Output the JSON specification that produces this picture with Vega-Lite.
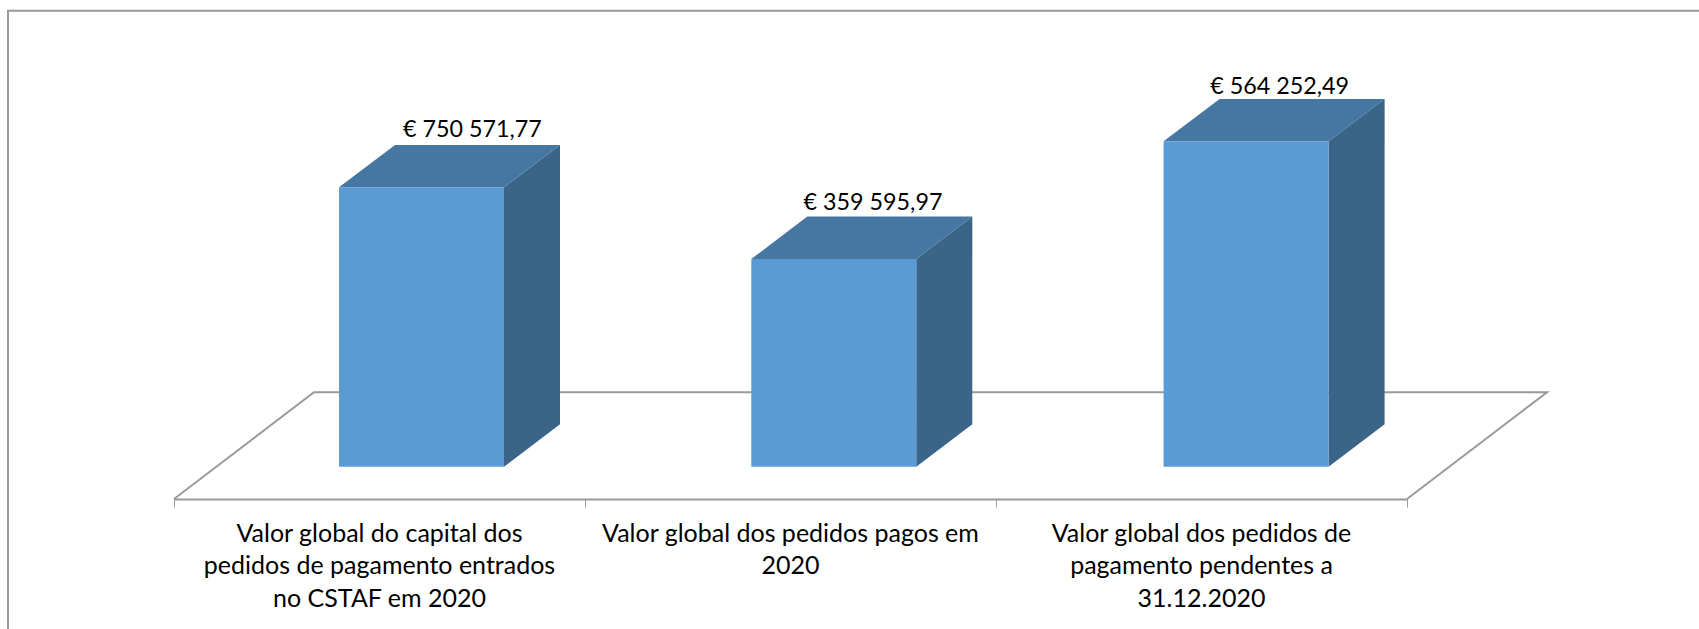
{
"$schema":"https://vega.github.io/schema/vega-lite/v6.json",
"width":1233,"height":499,
"autosize":{"type":"none"},
"padding":{"left":174,"top":0,"right":292,"bottom":130},
"background":"#ffffff",
"view":{"stroke":null},
"config":{"axisX":{"labels":false,"grid":false,"domainColor":"#9a9a9a","domainWidth":2,"tickColor":"#9a9a9a","tickWidth":1,"tickSize":8}},
"datasets":{
"barras":[
{"categoria":"Valor global do capital dos\npedidos de pagamento entrados\nno CSTAF em 2020","centro":0.5,"esq":0.4015,"dir":0.8029,"base":0,"altura":279.4,"valor":"€ 750 571,77","rotX":0.7261,"rotY":329.4},
{"categoria":"Valor global dos pedidos pagos em\n2020","centro":1.5,"esq":1.4046,"dir":1.806,"base":0,"altura":207.7,"valor":"€ 359 595,97","rotX":1.7007,"rotY":256.7},
{"categoria":"Valor global dos pedidos de\npagamento pendentes a\n31.12.2020","centro":2.5,"esq":2.4078,"dir":2.8092,"base":0,"altura":325.4,"valor":"€ 564 252,49","rotX":2.69,"rotY":372.7}
],
"lateral":[
{"barra":"A","x":0.8029,"y":279.4,"y2":0},{"barra":"A","x":0.9392,"y":321.8,"y2":42.4},
{"barra":"B","x":1.806,"y":207.7,"y2":0},{"barra":"B","x":1.9423,"y":250.1,"y2":42.4},
{"barra":"C","x":2.8092,"y":325.4,"y2":0},{"barra":"C","x":2.9455,"y":367.8,"y2":42.4}
],
"topo":[
{"barra":"A","y":279.4,"x":0.4015,"x2":0.8029},{"barra":"A","y":321.8,"x":0.5378,"x2":0.9392},
{"barra":"B","y":207.7,"x":1.4046,"x2":1.806},{"barra":"B","y":250.1,"x":1.5409,"x2":1.9423},
{"barra":"C","y":325.4,"x":2.4078,"x2":2.8092},{"barra":"C","y":367.8,"x":2.5441,"x2":2.9455}
],
"linhas":[
{"linha":"moldura","n":1,"x":-0.4039,"y":-162.3},{"linha":"moldura","n":2,"x":-0.4039,"y":456},{"linha":"moldura","n":3,"x":3.7105,"y":456},
{"linha":"chao","n":1,"x":0,"y":-32.3},{"linha":"chao","n":2,"x":0.3406,"y":74.4},{"linha":"chao","n":3,"x":3.3406,"y":74.4},{"linha":"chao","n":4,"x":3,"y":-32.3}
]
},
"layer":[
{"data":{"name":"linhas"},
 "mark":{"type":"line","color":"#9a9a9a","strokeWidth":2,"clip":false},
 "encoding":{
  "x":{"field":"x","type":"quantitative","title":null,"scale":{"domain":[0,3],"nice":false,"zero":false},"axis":{"values":[0,1,2,3]}},
  "y":{"field":"y","type":"quantitative","scale":{"domain":[-32.3,466.7],"nice":false,"zero":false},"axis":null},
  "detail":{"field":"linha"},
  "order":{"field":"n"}
 }},
{"data":{"name":"lateral"},
 "mark":{"type":"area","color":"#3A6488","clip":false},
 "encoding":{
  "x":{"field":"x","type":"quantitative","title":null,"scale":{"domain":[0,3],"nice":false,"zero":false},"axis":{"values":[0,1,2,3]}},
  "y":{"field":"y","type":"quantitative","scale":{"domain":[-32.3,466.7],"nice":false,"zero":false},"axis":null},
  "y2":{"field":"y2"},
  "detail":{"field":"barra"}
 }},
{"data":{"name":"topo"},
 "mark":{"type":"area","orient":"horizontal","color":"#4676A2","clip":false},
 "encoding":{
  "y":{"field":"y","type":"quantitative","scale":{"domain":[-32.3,466.7],"nice":false,"zero":false},"axis":null},
  "x":{"field":"x","type":"quantitative","title":null,"scale":{"domain":[0,3],"nice":false,"zero":false},"axis":{"values":[0,1,2,3]}},
  "x2":{"field":"x2"},
  "detail":{"field":"barra"}
 }},
{"data":{"name":"barras"},
 "mark":{"type":"bar","color":"#5B9BD5","clip":false},
 "encoding":{
  "x":{"field":"esq","type":"quantitative","title":null,"scale":{"domain":[0,3],"nice":false,"zero":false},"axis":{"values":[0,1,2,3]}},
  "x2":{"field":"dir"},
  "y":{"field":"altura","type":"quantitative","scale":{"domain":[-32.3,466.7],"nice":false,"zero":false},"axis":null},
  "y2":{"field":"base"}
 }},
{"data":{"name":"barras"},
 "mark":{"type":"text","font":"Lato","fontSize":23.3,"color":"#000000","align":"center","baseline":"alphabetic","clip":false},
 "encoding":{
  "x":{"field":"rotX","type":"quantitative","title":null,"scale":{"domain":[0,3],"nice":false,"zero":false},"axis":{"values":[0,1,2,3]}},
  "y":{"field":"rotY","type":"quantitative","scale":{"domain":[-32.3,466.7],"nice":false,"zero":false},"axis":null},
  "text":{"field":"valor"}
 }},
{"data":{"name":"barras"},
 "mark":{"type":"text","font":"Lato","fontSize":25,"color":"#000000","align":"center","baseline":"alphabetic","lineBreak":"\n","lineHeight":32.5,"clip":false},
 "encoding":{
  "x":{"field":"centro","type":"quantitative","title":null,"scale":{"domain":[0,3],"nice":false,"zero":false},"axis":{"values":[0,1,2,3]}},
  "y":{"datum":-75,"type":"quantitative","scale":{"domain":[-32.3,466.7],"nice":false,"zero":false},"axis":null},
  "text":{"field":"categoria"}
 }}
]
}
